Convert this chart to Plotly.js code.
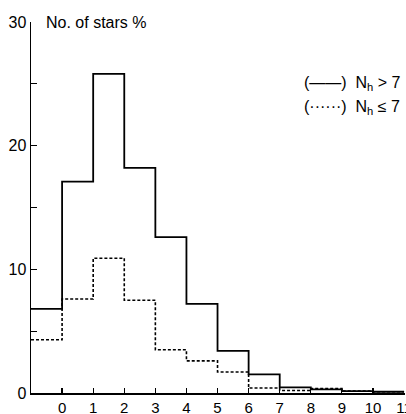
<!DOCTYPE html>
<html>
<head>
<meta charset="utf-8">
<script src="https://cdn.plot.ly/plotly-2.35.2.min.js"></script>
<style>html,body{margin:0;padding:0;background:#fff;}#chart{width:406px;height:414px;}</style>
</head>
<body>
<div id="chart"></div>
<script>
// Bin edges (unit-wide bins from -1 to 11)
const binEdges = [-1, 0, 1, 2, 3, 4, 5, 6, 7, 8, 9, 10, 11];
// Percentage of stars, Nh > 7 (solid)
const pctHigh = [6.8, 17.1, 25.8, 18.2, 12.6, 7.2, 3.4, 1.5, 0.45, 0.3, 0.15, 0.1];
// Percentage of stars, Nh <= 7 (dashed)
const pctLow = [4.3, 7.6, 10.9, 7.5, 3.5, 2.6, 1.7, 0.4, 0.2, 0.35, 0.15, 0.1];
// Axis ticks
const xTickVals = [0, 1, 2, 3, 4, 5, 6, 7, 8, 9, 10, 11];
const xTickText = ["0", "1", "2", "3", "4", "5", "6", "7", "8", "9", "10", "11"];
const yTickVals = [0, 10, 20, 30];
const yTickText = ["0", "10", "20", "30"];
const yMinorVals = [5, 15, 25];

function stepY(vals) { return vals.concat([vals[vals.length - 1]]); }

const traces = [
  {x: binEdges, y: stepY(pctHigh), mode: 'lines', line: {shape: 'hv', color: '#000', width: 1.8}, name: 'Nh > 7'},
  {x: binEdges, y: stepY(pctLow), mode: 'lines', line: {shape: 'hv', color: '#000', width: 1.6, dash: '3px,2px'}, name: 'Nh ≤ 7'}
];

const fontFam = 'Liberation Sans, Arial, sans-serif';
const layout = {
  width: 406, height: 414,
  margin: {l: 31, r: 1, t: 22, b: 21},
  paper_bgcolor: '#fff', plot_bgcolor: '#fff',
  showlegend: false,
  font: {family: fontFam, color: '#000', size: 15},
  xaxis: {
    range: [-1, 11.03], showgrid: false, zeroline: false,
    showline: true, linecolor: '#000', linewidth: 1.5,
    ticks: 'inside', ticklen: 5, tickwidth: 1.2, tickcolor: '#000',
    tickvals: xTickVals, ticktext: xTickText,
    tickfont: {size: 15, family: fontFam},
    ticklabeloverflow: 'allow'
  },
  yaxis: {
    range: [0, 30], showgrid: false, zeroline: false,
    showline: true, linecolor: '#000', linewidth: 1.5,
    ticks: 'inside', ticklen: 6, tickwidth: 1.2, tickcolor: '#000',
    tickvals: yTickVals, ticktext: yTickText,
    tickfont: {size: 16, family: fontFam},
    ticklabeloverflow: 'allow',
    minor: {tickvals: yMinorVals, ticks: 'inside', ticklen: 6, tickwidth: 1.2, tickcolor: '#000', showgrid: false}
  },
  annotations: [
    {xref: 'paper', yref: 'paper', x: 0.035, y: 1.0, xanchor: 'left', yanchor: 'middle',
     text: 'No. of stars %', showarrow: false, font: {size: 16, family: fontFam}},
    {xref: 'paper', yref: 'paper', x: 0.725, y: 0.835, xanchor: 'left', yanchor: 'middle',
     text: '(——)  N<sub>h</sub> > 7', showarrow: false, font: {size: 16, family: fontFam}},
    {xref: 'paper', yref: 'paper', x: 0.725, y: 0.77, xanchor: 'left', yanchor: 'middle',
     text: '(······)  N<sub>h</sub> ≤ 7', showarrow: false, font: {size: 16, family: fontFam}}
  ]
};

Plotly.newPlot('chart', traces, layout, {staticPlot: true, displayModeBar: false});
</script>
</body>
</html>
